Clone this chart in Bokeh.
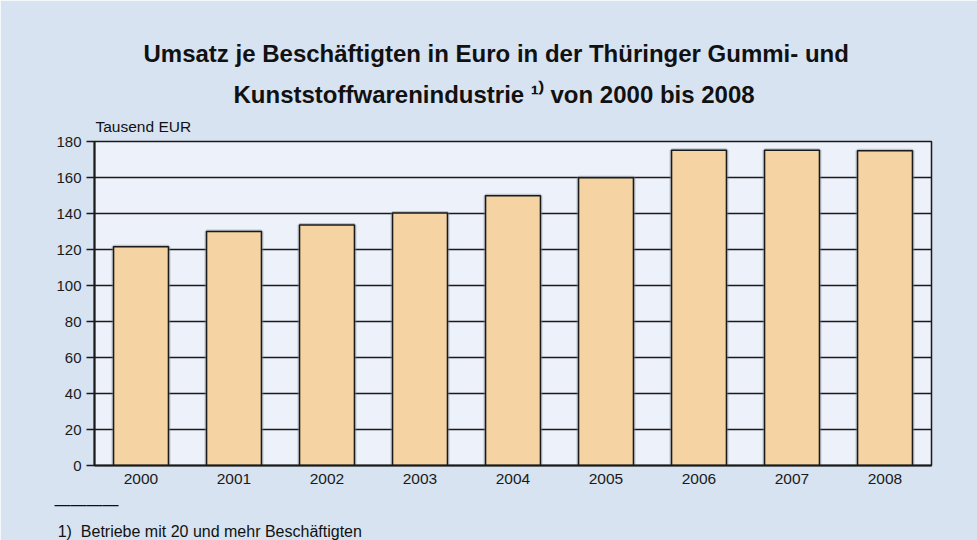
from bokeh.plotting import figure
from bokeh.models import (FactorRange, Range1d, FixedTicker, Title, ColumnDataSource)
from bokeh.embed import file_html
from bokeh.resources import INLINE

# ---- data ----
years = ["2000", "2001", "2002", "2003", "2004", "2005", "2006", "2007", "2008"]
values = [121.5, 130.0, 133.6, 140.3, 149.8, 159.8, 175.2, 175.2, 174.8]
y_ticks = [0, 20, 40, 60, 80, 100, 120, 140, 160, 180]

title_line1 = "Umsatz je Beschäftigten in Euro in der Thüringer Gummi- und"
title_line2 = "Kunststoffwarenindustrie \u00b9\u207e von 2000 bis 2008"
unit_label = "Tausend EUR"
footnote = "\u2014\u2014\u2014\u2014\n\u20091)\u00a0\u00a0Betriebe mit 20 und mehr Beschäftigten"

W, H = 977, 540
FL, FR, FT, FB = 94, 931, 141, 465   # frame edges (canvas px, top-down)
FONT = "Liberation Sans"
DARK = "#1a1a1a"

src = ColumnDataSource(data=dict(year=years, value=values))

p = figure(width=W, height=H, x_range=FactorRange(*years), y_range=Range1d(0, 180),
           output_backend="svg", toolbar_location=None,
           min_border_left=FL, min_border_right=W - FR, min_border_top=FT,
           min_border_bottom=H - FB)

p.background_fill_color = "#edf2fa"
p.border_fill_color = "#d7e3f0"
p.outline_line_color = DARK
p.outline_line_width = 1.5

# grid
p.xgrid.grid_line_color = None
p.ygrid.ticker = FixedTicker(ticks=y_ticks)
p.ygrid.grid_line_color = DARK
p.ygrid.grid_line_width = 1.5

# y axis
p.yaxis.ticker = FixedTicker(ticks=y_ticks)
p.yaxis.major_tick_out = 8
p.yaxis.major_tick_in = 0
p.yaxis.minor_tick_line_color = None
p.yaxis.axis_line_width = 2
p.yaxis.axis_line_color = DARK
p.yaxis.major_tick_line_color = DARK
p.yaxis.major_tick_line_width = 1.5
p.yaxis.major_label_text_font = FONT
p.yaxis.major_label_text_font_size = "15px"
p.yaxis.major_label_text_color = DARK
p.yaxis.major_label_standoff = 5

# x axis
p.xaxis.major_tick_out = 0
p.xaxis.major_tick_in = 0
p.xaxis.major_tick_line_color = None
p.xaxis.axis_line_width = 2
p.xaxis.axis_line_color = DARK
p.xaxis.major_label_text_font = FONT
p.xaxis.major_label_text_font_size = "15.5px"
p.xaxis.major_label_text_color = DARK
p.xaxis.major_label_standoff = 8

# bars (soft shadow + bar)
p.vbar(x="year", top="value", width=0.59, source=src, fill_color=None,
       line_color="#7f8796", line_alpha=0.45, line_width=4)
p.vbar(x="year", top="value", width=0.59, source=src, fill_color="#f5d3a2",
       line_color=DARK, line_width=1.5)

# ---- texts as titles (panels stack outward from the frame) ----
# nearest to frame: unit label
p.add_layout(Title(text=unit_label, align="left", offset=95 - FL, standoff=14,
                   vertical_align="bottom", text_font=FONT, text_font_size="15.5px",
                   text_font_style="normal", text_color="#111111"), "above")
# second title line
p.add_layout(Title(text=title_line2, align="left", offset=233 - FL, standoff=1.2,
                   vertical_align="bottom", text_font=FONT, text_font_size="24px",
                   text_font_style="bold", text_color="#111111"), "above")
# first title line (outermost) uses the figure's own title
p.title.text = title_line1
p.title.align = "left"
p.title.offset = 143 - FL
p.title.standoff = 23.8
p.title.vertical_align = "bottom"
p.title.text_font = FONT
p.title.text_font_size = "24px"
p.title.text_font_style = "bold"
p.title.text_color = "#111111"

# small spacer below the x axis, then the footnote
p.add_layout(Title(text="\u00a0", align="left", standoff=4.9, text_font=FONT,
                   text_font_size="1px", text_color="#d7e3f0"), "below")
p.add_layout(Title(text=footnote, align="left", offset=54 - FL, standoff=0,
                   vertical_align="bottom", text_font=FONT, text_font_size="16px",
                   text_font_style="normal", text_color="#111111",
                   text_line_height=1.59), "below")

open("out.html", "w").write(file_html(p, INLINE))
